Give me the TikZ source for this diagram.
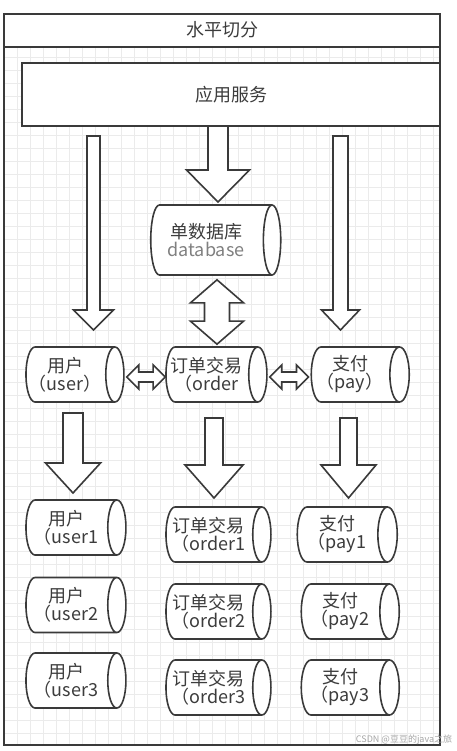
\documentclass[tikz,border=0pt]{standalone}
\usepackage{fontspec}
\setmainfont{Noto Sans CJK SC}
\usetikzlibrary{shapes.geometric,calc}

\definecolor{linegray}{HTML}{3A3A3A}
\definecolor{textgray}{HTML}{3C3C3C}

% two centred lines that do not widen the cylinder
\newcommand{\cyltext}[2]{\makebox[0pt]{\hspace*{-10pt}#1}\\[-1pt]\makebox[0pt]{\hspace*{-10pt}#2}}

% block arrow pointing down: start, tip, shaft half, head half, head length
\newcommand{\dnarrow}[5]{%
  \draw[blk] ($(#1)+(-#3,0)$) -- ($(#2)+(-#3,-#5)$) -- ($(#2)+(-#4,-#5)$) -- (#2)
    -- ($(#2)+(#4,-#5)$) -- ($(#2)+(#3,-#5)$) -- ($(#1)+(#3,0)$) -- cycle;}
% vertical double arrow: top tip, bottom tip, shaft half, head half, head length
\newcommand{\vdarrow}[5]{%
  \draw[blk] (#1) -- ($(#1)+(#4,#5)$) -- ($(#1)+(#3,#5)$) -- ($(#2)+(#3,-#5)$)
    -- ($(#2)+(#4,-#5)$) -- (#2) -- ($(#2)+(-#4,-#5)$) -- ($(#2)+(-#3,-#5)$)
    -- ($(#1)+(-#3,#5)$) -- ($(#1)+(-#4,#5)$) -- cycle;}
% horizontal double arrow: left tip, right tip, shaft half, head half, head length
\newcommand{\hdarrow}[5]{%
  \draw[blk] (#1) -- ($(#1)+(#5,-#4)$) -- ($(#1)+(#5,-#3)$) -- ($(#2)+(-#5,-#3)$)
    -- ($(#2)+(-#5,-#4)$) -- (#2) -- ($(#2)+(-#5,#4)$) -- ($(#2)+(-#5,#3)$)
    -- ($(#1)+(#5,#3)$) -- ($(#1)+(#5,#4)$) -- cycle;}

\tikzset{
  frame/.style={draw=linegray, line width=1.6pt},
  gridline/.style={draw=black!8, line width=0.5pt},
  blk/.style={draw=linegray, line width=1.6pt, fill=white, line join=miter},
  dbcyl/.style={cylinder, draw=linegray, line width=1.6pt, fill=white,
    shape aspect=0.52, text=textgray, align=center, inner sep=0pt,
    font=\fontsize{18}{19}\selectfont},
}

\begin{document}
\begin{tikzpicture}[x=1pt,y=-1pt]
    \useasboundingbox[fill=white] (0,0) rectangle (456,751);

    % Fondo cuadriculado y marco
    \foreach \gx in {17,30,...,433} \draw[gridline] (\gx,47) -- (\gx,745);
    \foreach \gy in {57,70,...,740} \draw[gridline] (4,\gy) -- (440,\gy);
    \draw[frame] (4,14) rectangle (440,745);
    \draw[frame] (4,47) -- (440,47);
    \node[font=\fontsize{18}{18}\selectfont, text=textgray] (title) at (222,30) {水平切分};

    % Servicio de aplicacion
    \node[frame, fill=white, minimum width=418, minimum height=63,
      font=\fontsize{18}{18}\selectfont, text=textgray] (app) at (231,94.5) {应用服务};

    % Base de datos unica
    \node[dbcyl, minimum height=130, minimum width=70] (db) at (211,240)
      {\cyltext{单数据库}{\color{black!50}database}};

    % Primer nivel
    \node[dbcyl, minimum height=98, minimum width=55] (user) at (70,374.5) {\cyltext{用户}{（user）}};
    \node[dbcyl, minimum height=101, minimum width=55] (order) at (211.5,374.5) {\cyltext{订单交易}{（order}};
    \node[dbcyl, minimum height=98, minimum width=55] (pay) at (355,374.5) {\cyltext{支付}{（pay）}};

    % Tablas divididas
    \node[dbcyl, minimum height=100, minimum width=55] (user1) at (71,527.5) {\cyltext{用户}{（user1}};
    \node[dbcyl, minimum height=105, minimum width=55] (order1) at (213.5,534.5) {\cyltext{订单交易}{（order1}};
    \node[dbcyl, minimum height=100, minimum width=55] (pay1) at (342,534.5) {\cyltext{支付}{（pay1}};
    \node[dbcyl, minimum height=100, minimum width=55] (user2) at (71,605) {\cyltext{用户}{（user2}};
    \node[dbcyl, minimum height=105, minimum width=55] (order2) at (213.5,611.5) {\cyltext{订单交易}{（order2}};
    \node[dbcyl, minimum height=98, minimum width=55] (pay2) at (345,611.5) {\cyltext{支付}{（pay2}};
    \node[dbcyl, minimum height=100, minimum width=55] (user3) at (71,680.5) {\cyltext{用户}{（user3}};
    \node[dbcyl, minimum height=105, minimum width=55] (order3) at (213.5,687.5) {\cyltext{订单交易}{（order3}};
    \node[dbcyl, minimum height=98, minimum width=55] (pay3) at (345,687.5) {\cyltext{支付}{（pay3}};

    % Flechas
    \coordinate (uTop) at (93.5,136);  \coordinate (uTip) at (93.5,330);
    \coordinate (pTop) at (340.5,136); \coordinate (pTip) at (340.5,330);
    \coordinate (dbTop) at (218,126);  \coordinate (dbTip) at (218,202);
    \dnarrow{uTop}{uTip}{6.5}{20}{20}
    \dnarrow{pTop}{pTip}{7.5}{19}{20}
    \dnarrow{dbTop}{dbTip}{10}{31.5}{32}
    \vdarrow{$(db.south)+(6,4)$}{$(order.north)+(5.5,-2)$}{12.5}{26.5}{23}
    \hdarrow{$(user.east)+(2,2.5)$}{$(order.west)+(0,2.5)$}{5}{12}{12}
    \hdarrow{$(order.east)+(2,2.5)$}{$(pay.west)+(-2,2.5)$}{5}{12}{12}

    \coordinate (s1) at (73,413);    \coordinate (t1) at (73,493);
    \coordinate (s2) at (214,418);   \coordinate (t2) at (214,498);
    \coordinate (s3) at (348.5,418); \coordinate (t3) at (348.5,498);
    \dnarrow{s1}{t1}{10}{27.5}{30}
    \dnarrow{s2}{t2}{9}{29}{33}
    \dnarrow{s3}{t3}{8.5}{27.5}{33}

    \node[font=\fontsize{9}{10}\selectfont, text=black!35] (mark) at (404,740) {CSDN @豆豆的java之旅};
\end{tikzpicture}
\end{document}
